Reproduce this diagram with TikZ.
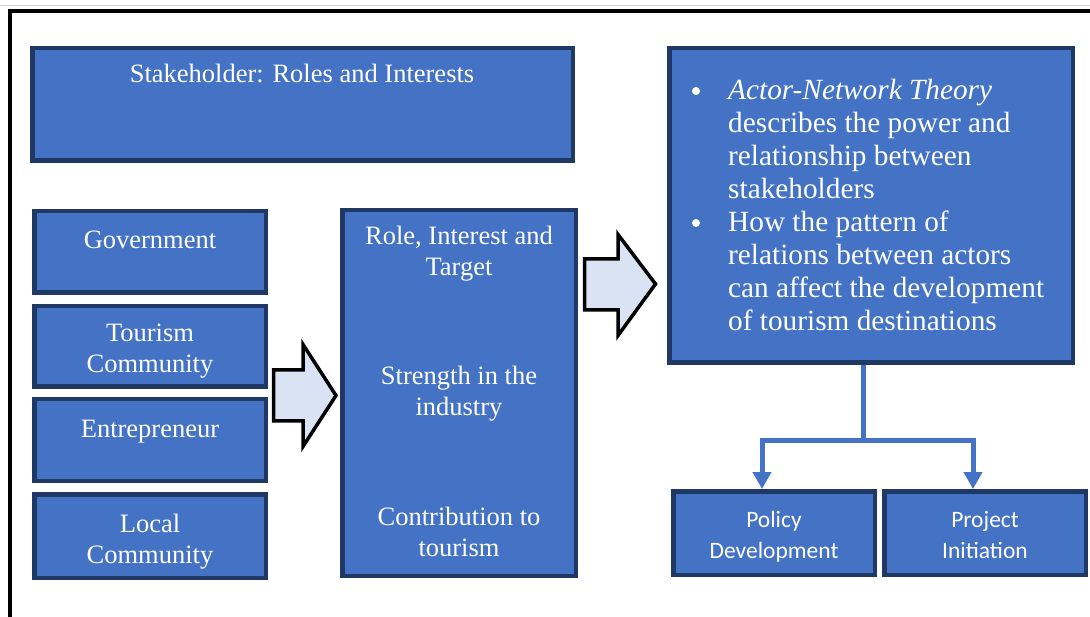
\documentclass[tikz,border=0pt]{standalone}
\usepackage{fontspec}
\setmainfont{Liberation Serif}
\newfontfamily\sansf{Carlito}
\usetikzlibrary{arrows.meta}
\definecolor{boxblue}{HTML}{4472C4}
\definecolor{boxnavy}{HTML}{203864}
\definecolor{arrfill}{HTML}{DAE3F3}
\tikzset{
  box/.style={draw=boxnavy, line width=4.5pt, fill=boxblue, inner sep=0pt},
  txt/.style={text=white, inner sep=0pt, align=center, anchor=base, font=\fontsize{26.5}{31}\selectfont},
  bigtxt/.style={text=white, inner sep=0pt, align=left, anchor=base west, font=\fontsize{29.3}{33}\selectfont},
  sanstxt/.style={text=white, inner sep=0pt, align=center, anchor=base, font=\sansf\fontsize{23.5}{31}\selectfont},
  blockarrow/.style={draw=black, line width=3.5pt, fill=arrfill, line join=miter},
  conn/.style={draw=boxblue, line width=5pt},
  bulletdot/.style={circle, fill=white, inner sep=0pt, minimum size=8pt},
}
\begin{document}
\begin{tikzpicture}[x=1pt,y=-1pt]
\useasboundingbox (0,0) rectangle (1090,617);
% page edge and frame
\draw[gray!35, line width=1pt] (0,6) -- (1090,6);
\draw[black, line width=4pt] (10.3,617) -- (10.3,10.8) -- (1090,10.8);

% boxes
\node[box, minimum width=540.5, minimum height=112.5] (title) at (302.5,104.5) {};
\node[box, minimum width=231.5, minimum height=81.5] (gov) at (150,252) {};
\node[box, minimum width=231.5, minimum height=80.5] (tour) at (150,346.5) {};
\node[box, minimum width=231.5, minimum height=81.5] (entr) at (150,440) {};
\node[box, minimum width=231.5, minimum height=83.5] (local) at (150,536) {};
\node[box, minimum width=233.5, minimum height=365.5] (mid) at (459,393) {};
\node[box, minimum width=403.5, minimum height=314.5] (ant) at (871,205.5) {};
\node[box, minimum width=201.5, minimum height=83.5] (pol) at (774,533) {};
\node[box, minimum width=201.5, minimum height=83.5] (proj) at (985,533) {};

% texts (anchor base = baseline of the last line)
\node[txt] (ttitle) at (302,83) {Stakeholder: Roles and Interests};
\node[txt] (tgov) at (150,249) {Government};
\node[txt] (ttour) at (150,373) {Tourism\\Community};
\node[txt] (tentr) at (150,438) {Entrepreneur};
\node[txt] (tlocal) at (150,563) {Local\\Community};
\node[txt] (tmid1) at (459,276) {Role, Interest and\\Target};
\node[txt] (tmid2) at (459,416) {Strength in the\\industry};
\node[txt] (tmid3) at (459,556) {Contribution to\\tourism};
\node[bigtxt] (b1) at (728,199) {\textit{Actor-Network Theory}\\describes the power and\\relationship between\\stakeholders};
\node[bigtxt] (b2) at (728,331) {How the pattern of\\relations between actors\\can affect the development\\of tourism destinations};
\node[bulletdot] (d1) at (696,91) {};
\node[bulletdot] (d2) at (696,223) {};
\node[sanstxt] (tpol) at (774,558) {Policy\\Development};
\node[sanstxt] (tproj) at (985,558) {Project\\Initiation};

% block arrows
\draw[blockarrow] (273.5,370) -- (303,370) -- (303,344.5) -- (336,395.5) -- (303,446.5) -- (303,421) -- (273.5,421) -- cycle;
\draw[blockarrow] (584.5,259) -- (618,259) -- (618,234.5) -- (655.5,284) -- (618,335.5) -- (618,310) -- (584.5,310) -- cycle;

% connectors
\coordinate (j) at (863,441);
\draw[conn] (j |- ant.south) -- (j);
\draw[conn, -{Triangle[width=18pt,length=17pt]}] (j) -| ([xshift=-12pt]pol.north);
\draw[conn, -{Triangle[width=18pt,length=17pt]}] (j) -| ([xshift=-12pt]proj.north);
\end{tikzpicture}
\end{document}
